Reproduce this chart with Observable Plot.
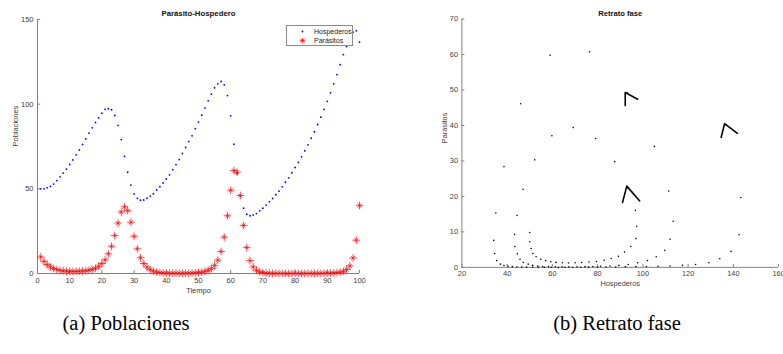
<!DOCTYPE html>
<html><head><meta charset="utf-8">
<script src="https://cdn.jsdelivr.net/npm/d3@7"></script>
<script src="https://cdn.jsdelivr.net/npm/@observablehq/plot@0.6"></script>
<style>
body{margin:0;background:#fff;}
#wrap{position:relative;width:783px;height:354px;overflow:hidden;background:#fff;font-family:"Liberation Sans",Arial,sans-serif;}
.panel{position:absolute;top:0;}
.cap{position:absolute;top:309px;font-family:"Liberation Serif","DejaVu Serif",serif;font-size:20.5px;color:#000;white-space:nowrap;transform:translateX(-50%);line-height:28px;}
.legend{position:absolute;left:286px;top:25px;width:67px;height:21px;box-sizing:border-box;border:1px solid #8a8a8a;background:#fff;font-size:7px;color:#222;}
.legend .row{position:absolute;left:0;height:9px;line-height:9px;}
.legend svg{position:absolute;left:10px;top:0;}
.legend span{position:absolute;left:27px;top:0;white-space:nowrap;}
</style>
</head><body>
<div id="wrap">
  <div id="left" class="panel" style="left:0"></div>
  <div id="right" class="panel" style="left:392px"></div>
  <div class="legend">
    <div class="row" style="top:1px"><svg width="12" height="9"><circle cx="5.5" cy="4.5" r="0.9" fill="#0000ff"/></svg><span>Hospederos</span></div>
    <div class="row" style="top:10px"><svg width="12" height="9"><g stroke="#ff0000" stroke-width="0.7"><line x1="5.5" y1="1.9" x2="5.5" y2="7.1"/><line x1="2.9" y1="4.5" x2="8.1" y2="4.5"/><line x1="3.6" y1="2.6" x2="7.4" y2="6.4"/><line x1="3.6" y1="6.4" x2="7.4" y2="2.6"/></g></svg><span>Parásitos</span></div>
  </div>
  <div class="cap" style="left:126px">(a) Poblaciones</div>
  <div class="cap" style="left:617px">(b) Retrato fase</div>
</div>
<script>
const tiempo = Array.from({length: 100}, (_, i) => i + 1);
const hospederos = [50.0,50.0,50.6,51.4,52.8,54.9,57.1,59.3,61.6,64.4,
  67.1,70.1,73.0,76.2,79.5,82.9,86.0,89.2,91.9,94.7,
  96.9,97.3,96.7,93.3,87.5,79.1,69.2,59.8,52.2,47.0,
  44.4,43.3,43.4,44.5,45.7,47.1,49.3,51.3,53.5,55.8,
  58.3,61.3,64.3,67.3,70.9,74.4,77.9,81.3,85.5,89.4,
  93.5,97.7,102.0,105.9,109.7,112.0,113.4,111.4,105.1,93.1,
  76.4,59.0,46.0,38.6,35.0,34.1,34.5,35.4,37.0,38.6,
  40.4,42.3,44.3,46.5,48.6,51.2,53.9,56.5,59.5,62.6,
  65.6,68.9,72.5,76.0,79.9,83.7,88.0,92.3,96.9,101.6,
  106.7,112.0,117.5,123.3,129.2,134.0,139.0,142.5,143.3,136.6];
const parasitos = [9.8,7.2,5.3,3.9,3.0,2.3,1.9,1.6,1.4,1.3,
  1.25,1.3,1.35,1.5,1.65,2.0,2.5,3.1,4.3,5.9,
  8.1,11.6,16.1,22.4,29.8,36.3,39.4,37.1,30.3,22.0,
  14.6,9.3,5.9,3.8,2.3,1.4,0.9,0.55,0.35,0.25,
  0.2,0.15,0.15,0.15,0.15,0.2,0.25,0.3,0.4,0.55,
  0.8,1.3,1.9,3.0,4.8,7.9,13.0,21.5,34.1,49.2,
  60.8,59.8,46.1,28.4,15.3,7.6,3.9,1.9,0.9,0.5,
  0.3,0.2,0.12,0.08,0.06,0.05,0.04,0.04,0.04,0.04,
  0.04,0.05,0.05,0.06,0.07,0.09,0.11,0.14,0.18,0.23,
  0.3,0.4,0.55,0.8,1.3,2.4,4.5,9.2,19.7,40.2];
const tiempoTicks = [0,10,20,30,40,50,60,70,80,90,100];
const poblTicks = [0,50,100,150];
const hospTicks = [20,40,60,80,100,120,140,160];
const parasTicks = [0,10,20,30,40,50,60,70];
// hand-drawn direction marks in the phase portrait (Hospederos, Parásitos)
const flecha1 = [[92.2,45.6],[92.2,49.3],[97.7,47.4]];
const flecha2 = [[134.6,36.6],[136.1,40.5],[141.8,37.8]];
const flecha3 = [[91.0,18.3],[92.9,22.9],[98.6,18.7]];

const serie = tiempo.map((t, i) => ({t, h: hospederos[i], p: parasitos[i]}));
const axisGray = "#808080";
const txtGray = "#404040";
const font = "Liberation Sans, Arial, sans-serif";

const left = Plot.plot({
  width: 392, height: 300,
  marginLeft: 37, marginRight: 33, marginTop: 19, marginBottom: 27,
  x: {domain: [0, 100]},
  y: {domain: [0, 150]},
  style: {fontFamily: font, fontSize: "7.5px", color: txtGray, background: "transparent", overflow: "visible"},
  marks: [
    Plot.ruleX([0], {stroke: axisGray}),
    Plot.ruleY([0], {stroke: axisGray}),
    Plot.axisX(tiempoTicks, {tickSize: -3, tickPadding: 7, stroke: axisGray, label: null}),
    Plot.axisY(poblTicks, {tickSize: -3, tickPadding: 7, stroke: axisGray, label: null}),
    Plot.dot(serie, {x: "t", y: "h", r: 0.9, fill: "#0000ff"}),
    Plot.dot(serie, {x: "t", y: "p", r: 2.6, symbol: "plus", stroke: "#ff0000", strokeWidth: 0.7}),
    Plot.dot(serie, {x: "t", y: "p", r: 1.9, symbol: "times", stroke: "#ff0000", strokeWidth: 0.7}),
    Plot.text(["Tiempo"], {frameAnchor: "bottom", dy: 19.5, fill: txtGray}),
    Plot.text(["Poblaciones"], {frameAnchor: "left", dx: -22, rotate: -90, fill: txtGray}),
    Plot.text(["Parásito-Hospedero"], {frameAnchor: "top", dy: -9, fontWeight: "bold", fill: "#111", fontSize: 7.8})
  ]
});
document.getElementById("left").appendChild(left);

const right = Plot.plot({
  width: 400, height: 300,
  marginLeft: 71, marginRight: 5, marginTop: 19, marginBottom: 27,
  x: {domain: [20, 160]},
  y: {domain: [0, 70]},
  style: {fontFamily: font, fontSize: "7.5px", color: txtGray, background: "transparent", overflow: "visible"},
  marks: [
    Plot.ruleX([20], {stroke: axisGray}),
    Plot.ruleY([0], {stroke: axisGray}),
    Plot.axisX(hospTicks, {tickSize: -3, tickPadding: 7, stroke: axisGray, label: null}),
    Plot.axisY(parasTicks, {tickSize: -3, tickPadding: 7, stroke: axisGray, label: null}),
    Plot.dot(serie, {x: "h", y: "p", r: 0.8, fill: "#000"}),
    Plot.line(flecha1, {x: d => d[0], y: d => d[1], stroke: "#000", strokeWidth: 1.6}),
    Plot.line(flecha2, {x: d => d[0], y: d => d[1], stroke: "#000", strokeWidth: 1.6}),
    Plot.line(flecha3, {x: d => d[0], y: d => d[1], stroke: "#000", strokeWidth: 1.6}),
    Plot.text(["Hospederos"], {frameAnchor: "bottom", dy: 19.5, fill: txtGray}),
    Plot.text(["Parásitos"], {frameAnchor: "left", dx: -18, rotate: -90, fill: txtGray}),
    Plot.text(["Retrato fase"], {frameAnchor: "top", dy: -9, fontWeight: "bold", fill: "#111", fontSize: 7.8})
  ]
});
document.getElementById("right").appendChild(right);
</script>
</body></html>
